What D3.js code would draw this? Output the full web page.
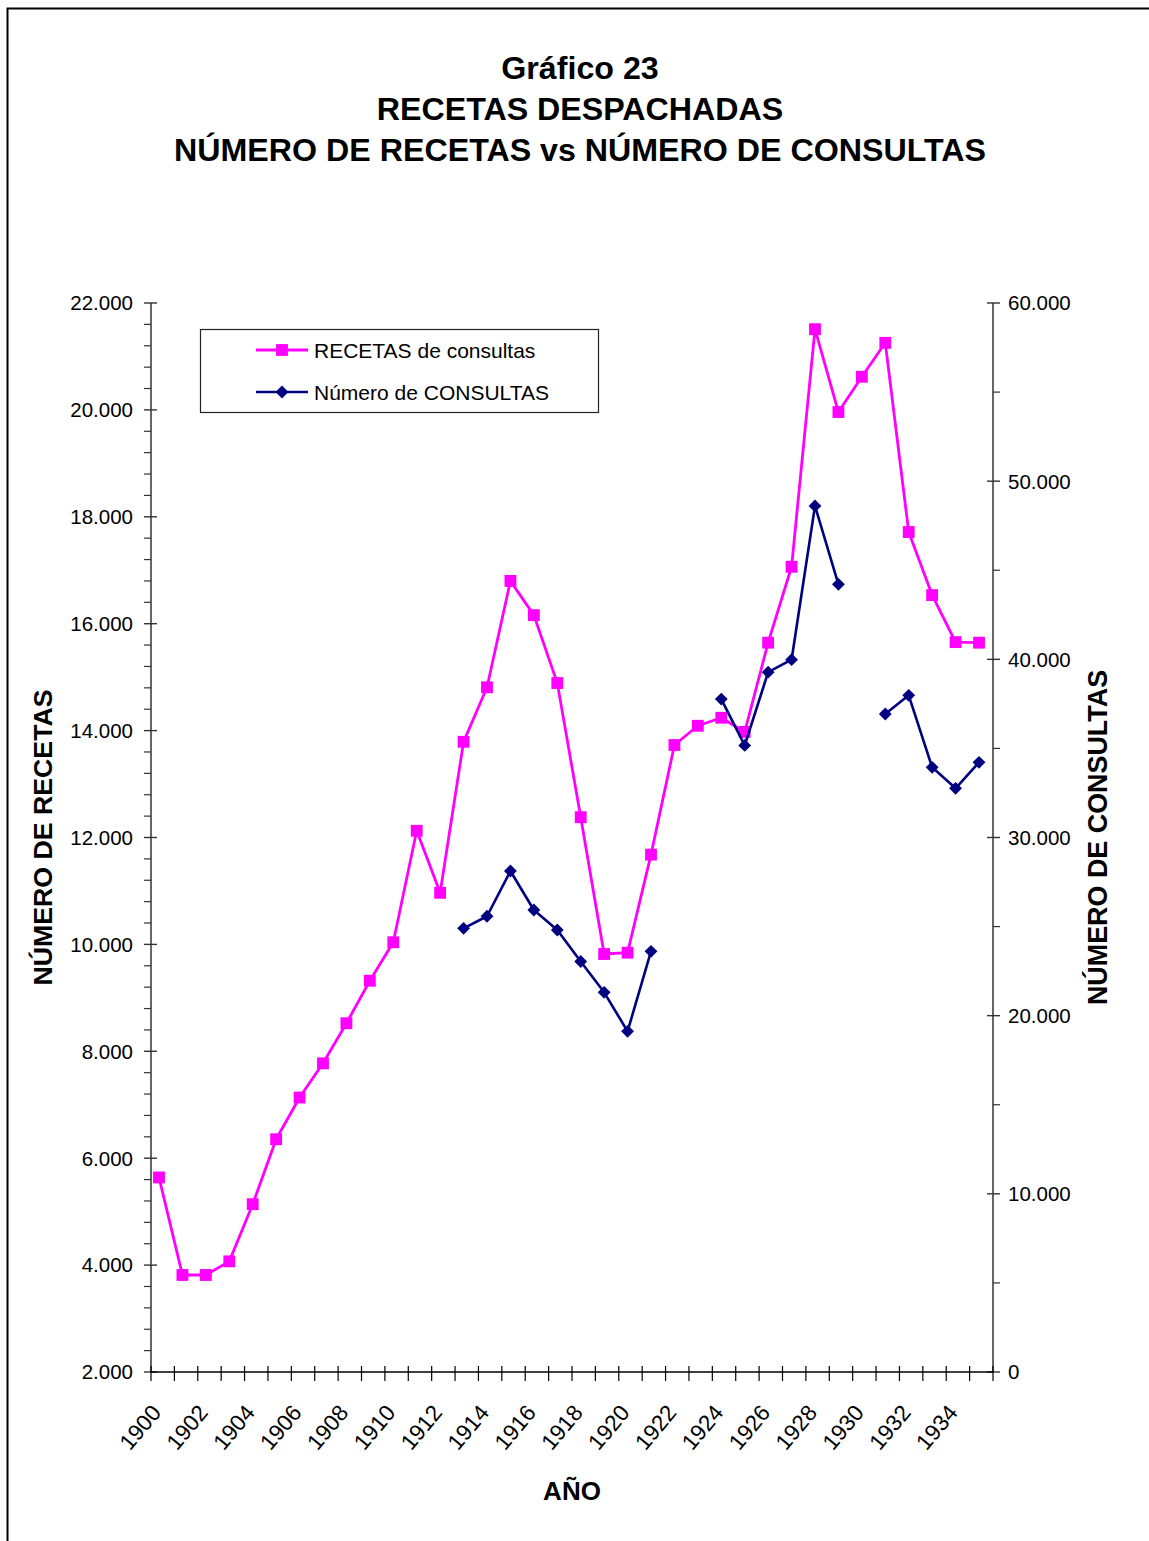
<!DOCTYPE html>
<html>
<head>
<meta charset="utf-8">
<script src="https://cdn.jsdelivr.net/npm/d3@7"></script>
<style>
  html, body { margin: 0; padding: 0; background: #fff; }
  svg { display: block; font-family: "Liberation Sans", Arial, sans-serif; }
</style>
</head>
<body>
<svg id="chart" width="1149" height="1541"></svg>
<script>
// Años (categorías del eje X)
const years = [1900, 1901, 1902, 1903, 1904, 1905, 1906, 1907, 1908, 1909,
  1910, 1911, 1912, 1913, 1914, 1915, 1916, 1917, 1918, 1919,
  1920, 1921, 1922, 1923, 1924, 1925, 1926, 1927, 1928, 1929,
  1930, 1931, 1932, 1933, 1934, 1935];

// Etiquetas visibles del eje X (años pares)
const yearLabels = [1900, 1902, 1904, 1906, 1908, 1910, 1912, 1914, 1916, 1918,
  1920, 1922, 1924, 1926, 1928, 1930, 1932, 1934];

// RECETAS de consultas (eje izquierdo)
const recetas = [5640, 3815, 3815, 4070, 5140, 6355, 7135, 7775, 8525, 9320,
  10040, 12125, 10965, 13790, 14810, 16800, 16160, 14890, 12380, 9820,
  9845, 11680, 13730, 14090, 14240, 13975, 15645, 17065, 21510, 19960,
  20620, 21255, 17715, 16535, 15655, 15645];

// Número de CONSULTAS (eje derecho); null = año sin dato
const consultas = [null, null, null, null, null, null, null, null, null, null,
  null, null, null, 24900, 25580, 28120, 25930, 24810, 23040, 21310,
  19120, 23610, null, null, 37770, 35170, 39280, 39980, 48610, 44210,
  null, 36930, 37980, 33940, 32760, 34220];

// Marcas de los ejes verticales
const leftTicks = [2000, 4000, 6000, 8000, 10000, 12000, 14000, 16000, 18000, 20000, 22000];
const rightTicks = [0, 10000, 20000, 30000, 40000, 50000, 60000];

const seriesNames = ["RECETAS de consultas", "Número de CONSULTAS"];

const PINK = "#FF00FF";
const NAVY = "#000080";

const svg = d3.select("#chart");
const fmt = d3.formatLocale({ decimal: ",", thousands: ".", grouping: [3], currency: ["", ""] }).format(",");

// Marco exterior del gráfico
svg.append("rect")
  .attr("x", 7.5).attr("y", 8.5)
  .attr("width", 1200).attr("height", 1600)
  .attr("fill", "none").attr("stroke", "#000").attr("stroke-width", 2);

// Escalas
const plot = { left: 151, right: 993, top: 303, bottom: 1372 };
const xBand = d3.scaleBand().domain(years).range([plot.left, plot.right]).padding(0);
const x = d3.scalePoint().domain(years).range([159, 979]);
const yL = d3.scaleLinear().domain([2000, 22000]).range([plot.bottom, plot.top]);
const yR = d3.scaleLinear().domain([0, 60000]).range([plot.bottom, plot.top]);

// Título
const title = svg.append("text")
  .attr("text-anchor", "middle")
  .attr("font-weight", "bold")
  .attr("font-size", 32.2)
  .attr("fill", "#000");
["Gráfico 23", "RECETAS DESPACHADAS", "NÚMERO DE RECETAS vs NÚMERO DE CONSULTAS"].forEach((t, i) => {
  title.append("tspan").attr("x", 580).attr("y", 79 + i * 41).text(t);
});

// Eje izquierdo
const axL = svg.append("g");
axL.append("line")
  .attr("x1", plot.left).attr("x2", plot.left)
  .attr("y1", plot.top).attr("y2", plot.bottom)
  .attr("stroke", "#333").attr("stroke-width", 1.5);
const minorL = d3.range(2000, 22001, 400).filter(v => v % 2000 !== 0);
axL.selectAll(".minor").data(minorL).join("line")
  .attr("x1", plot.left - 7).attr("x2", plot.left)
  .attr("y1", d => yL(d)).attr("y2", d => yL(d))
  .attr("stroke", "#333").attr("stroke-width", 1.2);
axL.selectAll(".major").data(leftTicks).join("line")
  .attr("x1", plot.left - 7).attr("x2", plot.left + 6)
  .attr("y1", d => yL(d)).attr("y2", d => yL(d))
  .attr("stroke", "#333").attr("stroke-width", 1.4);
axL.selectAll("text").data(leftTicks).join("text")
  .attr("x", 133).attr("y", d => yL(d)).attr("dy", "0.36em")
  .attr("text-anchor", "end").attr("font-size", 20.5).attr("fill", "#000")
  .text(d => fmt(d));

// Eje derecho
const axR = svg.append("g");
axR.append("line")
  .attr("x1", plot.right).attr("x2", plot.right)
  .attr("y1", plot.top).attr("y2", plot.bottom)
  .attr("stroke", "#333").attr("stroke-width", 1.5);
const minorR = d3.range(0, 60001, 5000).filter(v => v % 10000 !== 0);
axR.selectAll(".minor").data(minorR).join("line")
  .attr("x1", plot.right).attr("x2", plot.right + 7)
  .attr("y1", d => yR(d)).attr("y2", d => yR(d))
  .attr("stroke", "#333").attr("stroke-width", 1.2);
axR.selectAll(".major").data(rightTicks).join("line")
  .attr("x1", plot.right - 6).attr("x2", plot.right + 7)
  .attr("y1", d => yR(d)).attr("y2", d => yR(d))
  .attr("stroke", "#333").attr("stroke-width", 1.4);
axR.selectAll("text").data(rightTicks).join("text")
  .attr("x", 1008).attr("y", d => yR(d)).attr("dy", "0.36em")
  .attr("text-anchor", "start").attr("font-size", 20.5).attr("fill", "#000")
  .text(d => fmt(d));

// Eje X
const axX = svg.append("g");
axX.append("line")
  .attr("x1", plot.left).attr("x2", plot.right)
  .attr("y1", plot.bottom).attr("y2", plot.bottom)
  .attr("stroke", "#000").attr("stroke-width", 1.5);
const bounds = years.map(d => xBand(d)).concat([xBand(years[years.length - 1]) + xBand.bandwidth()]);
axX.selectAll(".tick").data(bounds).join("line")
  .attr("x1", d => d).attr("x2", d => d)
  .attr("y1", plot.bottom - 6).attr("y2", plot.bottom + 9)
  .attr("stroke", "#000").attr("stroke-width", 1.2);
axX.selectAll("text").data(yearLabels).join("text")
  .attr("transform", d => `translate(${x(d) - 3},${plot.bottom + 36}) rotate(-50)`)
  .attr("text-anchor", "end").attr("dy", "0.36em")
  .attr("font-size", 22.5).attr("fill", "#000")
  .text(d => d);

// Títulos de los ejes
svg.append("text")
  .attr("x", (plot.left + plot.right) / 2).attr("y", 1500)
  .attr("text-anchor", "middle").attr("font-weight", "bold").attr("font-size", 26)
  .text("AÑO");
svg.append("text")
  .attr("transform", `translate(52,${(plot.top + plot.bottom) / 2}) rotate(-90)`)
  .attr("text-anchor", "middle").attr("font-weight", "bold").attr("font-size", 26.7)
  .text("NÚMERO DE RECETAS");
svg.append("text")
  .attr("transform", `translate(1107,${(plot.top + plot.bottom) / 2}) rotate(-90)`)
  .attr("text-anchor", "middle").attr("font-weight", "bold").attr("font-size", 26.9)
  .text("NÚMERO DE CONSULTAS");

// Marcadores
const square = d3.symbol().type(d3.symbolSquare).size(140);
const diamond = d3.symbol().type(d3.symbolDiamond2).size(105);

// Serie RECETAS
const recData = years.map((yr, i) => ({ yr, v: recetas[i] }));
const lineL = d3.line().x(d => x(d.yr)).y(d => yL(d.v));
svg.append("path").datum(recData)
  .attr("d", lineL).attr("fill", "none")
  .attr("stroke", PINK).attr("stroke-width", 2.8).attr("stroke-linejoin", "round");
svg.append("g").selectAll("path").data(recData).join("path")
  .attr("transform", d => `translate(${x(d.yr)},${yL(d.v)})`)
  .attr("d", square).attr("fill", PINK);

// Serie CONSULTAS
const conData = years.map((yr, i) => ({ yr, v: consultas[i] }));
const lineR = d3.line().defined(d => d.v != null).x(d => x(d.yr)).y(d => yR(d.v));
svg.append("path").datum(conData)
  .attr("d", lineR).attr("fill", "none")
  .attr("stroke", NAVY).attr("stroke-width", 2.6).attr("stroke-linejoin", "round");
svg.append("g").selectAll("path").data(conData.filter(d => d.v != null)).join("path")
  .attr("transform", d => `translate(${x(d.yr)},${yR(d.v)})`)
  .attr("d", diamond).attr("fill", NAVY);

// Leyenda
const leg = svg.append("g");
leg.append("rect")
  .attr("x", 200.5).attr("y", 329.5).attr("width", 398).attr("height", 83)
  .attr("fill", "#fff").attr("stroke", "#222").attr("stroke-width", 1.2);
const legRows = [
  { name: seriesNames[0], color: PINK, sym: square, w: 2.8 },
  { name: seriesNames[1], color: NAVY, sym: diamond, w: 2.6 }
];
legRows.forEach((r, i) => {
  const cy = 350 + i * 42;
  leg.append("line").attr("x1", 256).attr("x2", 308).attr("y1", cy).attr("y2", cy)
    .attr("stroke", r.color).attr("stroke-width", r.w);
  leg.append("path").attr("transform", `translate(282,${cy})`).attr("d", r.sym).attr("fill", r.color);
  leg.append("text").attr("x", 314).attr("y", cy).attr("dy", "0.36em")
    .attr("font-size", 21).attr("fill", "#000").text(r.name);
});
</script>
</body>
</html>
